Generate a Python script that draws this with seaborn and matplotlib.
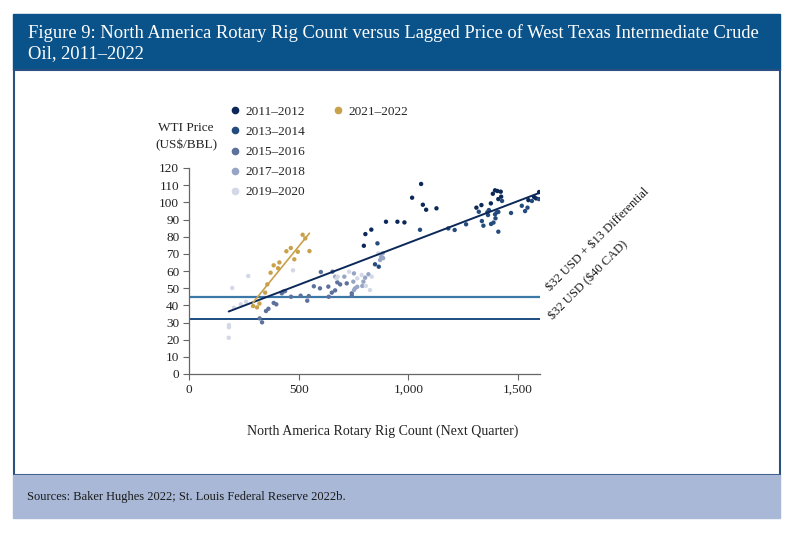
# =========================================================
# FIGURA 9 - RIG COUNT VS PRECIO WTI (REZAGADO)
# =========================================================

import pandas as pd
import numpy as np

import matplotlib.pyplot as plt
import seaborn as sns
from matplotlib.patches import Rectangle
from matplotlib.lines import Line2D


# =========================================================
# 1. DATOS
# =========================================================

periodos = ['2011–2012', '2013–2014', '2015–2016', '2017–2018', '2019–2020', '2021–2022']

rig_2011 = [797, 804, 831, 898, 950, 982, 1017, 1058, 1066, 1081, 1128, 1310,
            1333, 1385, 1395, 1406, 1421, 1423, 1410, 1376, 1547, 1573, 1596, 1582]
wti_2011 = [74.7, 81.5, 84.1, 88.7, 88.7, 88.3, 102.7, 110.7, 98.6, 95.7, 96.5, 96.9,
            98.4, 105.0, 107.0, 106.6, 106.2, 103.3, 101.9, 99.4, 101.3, 103.1, 106.0, 102.3]

rig_2013 = [1182, 1211, 1263, 1321, 1335, 1342, 1360, 1367, 1363, 1377, 1388, 1427,
            1395, 1403, 1410, 1397, 1410, 1468, 1517, 1532, 1543, 1563, 1595, 859,
            848, 865, 1053]
wti_2013 = [84.8, 83.9, 87.2, 94.5, 89.1, 86.4, 94.2, 95.5, 92.6, 87.4, 88.2, 100.8,
            93.0, 94.2, 94.4, 90.7, 82.9, 93.8, 98.0, 94.9, 96.9, 100.8, 101.9, 76.1,
            63.9, 62.5, 84.0]

rig_2015 = [322, 333, 351, 362, 386, 398, 423, 430, 438, 465, 509, 539, 546,
            569, 597, 601, 635, 637, 651, 654, 666, 676, 689, 719, 742, 742]
wti_2015 = [32.4, 30.1, 36.7, 38.0, 41.4, 40.6, 47.0, 48.0, 48.3, 45.0, 45.6, 42.7, 45.4,
            51.1, 49.9, 59.4, 50.9, 45.0, 47.4, 59.6, 48.7, 53.4, 52.2, 52.8, 47.0, 45.6]

rig_2017 = [749, 752, 757, 767, 790, 795, 803, 818, 752, 871, 876, 883, 885, 666, 708]
wti_2017 = [53.8, 48.9, 49.9, 50.8, 51.3, 53.8, 56.1, 58.1, 58.6, 66.4, 68.3, 70.3, 67.5,
            56.7, 56.7]

rig_2019 = [181, 182, 182, 197, 205, 236, 260, 270, 474, 673, 678, 730, 767, 787,
            806, 825, 833, 863]
wti_2019 = [21.1, 28.5, 27.2, 50.1, 38.6, 40.6, 42.1, 57.1, 60.4, 55.7, 56.7, 59.6,
            55.7, 57.7, 51.3, 48.9, 56.7, 70.3]

rig_2021 = [292, 310, 321, 347, 357, 372, 386, 406, 412, 444, 464, 480, 496, 518,
            530, 549]
wti_2021 = [39.6, 38.8, 41.0, 47.4, 52.2, 59.0, 63.3, 61.6, 65.0, 71.5, 73.4, 66.8,
            71.2, 81.1, 79.0, 71.6]

# Lineas de referencia (US$/BBL)
precio_base = 32
precio_diferencial = 45

colores = ['#0b2858', '#234b7e', '#5c719b', '#96a5c5', '#d3d8e6', '#c9a14b']


# =========================================================
# 2. ARMAR DATAFRAME
# =========================================================

xs = [rig_2011, rig_2013, rig_2015, rig_2017, rig_2019, rig_2021]
ys = [wti_2011, wti_2013, wti_2015, wti_2017, wti_2019, wti_2021]

df = pd.concat([
    pd.DataFrame({'rig': x, 'wti': y, 'periodo': p})
    for x, y, p in zip(xs, ys, periodos)
], ignore_index=True)

df_recent = df[df['periodo'] == '2021–2022']


# =========================================================
# 3. ESTILO
# =========================================================

sns.set_theme(style='ticks')
plt.rcParams['font.family'] = ['Liberation Serif', 'DejaVu Serif']

fig = plt.figure(figsize=(8, 5.4), dpi=100)

# Fondo: cabecera azul, caja blanca, franja de fuentes
fig.patches.append(Rectangle((13 / 800, 1 - 70 / 540), 767 / 800, 56 / 540,
                             transform=fig.transFigure, color='#0a538a', zorder=-10))
fig.patches.append(Rectangle((13.5 / 800, 1 - 475 / 540), 766 / 800, 405 / 540,
                             transform=fig.transFigure, facecolor='white',
                             edgecolor='#2a4f80', linewidth=1.5, zorder=-10))
fig.patches.append(Rectangle((13 / 800, 1 - 518 / 540), 767 / 800, 43 / 540,
                             transform=fig.transFigure, color='#a8b8d6', zorder=-10))

fig.text(28 / 800, 1 - 43 / 540,
         'Figure 9: North America Rotary Rig Count versus Lagged Price of West Texas Intermediate Crude\nOil, 2011–2022',
         color='white', fontsize=13.3, va='center', ha='left', linespacing=1.2)

fig.text(27 / 800, 1 - 497 / 540,
         'Sources: Baker Hughes 2022; St. Louis Federal Reserve 2022b.',
         color='#1a1a1a', fontsize=9, va='center', ha='left')


# =========================================================
# 4. GRAFICO
# =========================================================

ax = fig.add_axes([189 / 800, 1 - 374 / 540, 351 / 800, 206 / 540])
ax.set_zorder(2)

sns.scatterplot(data=df, x='rig', y='wti', hue='periodo', hue_order=periodos,
                palette=colores, s=10, linewidth=0, ax=ax, legend=False, zorder=3)

# Tendencias: una con todos los datos, otra solo 2021-2022
sns.regplot(data=df, x='rig', y='wti', scatter=False, ci=None, ax=ax,
            line_kws={'color': '#0b2858', 'linewidth': 1.4, 'zorder': 4})
sns.regplot(data=df_recent, x='rig', y='wti', scatter=False, ci=None, ax=ax,
            line_kws={'color': '#c9a14b', 'linewidth': 1.2, 'zorder': 4})

# Lineas horizontales
ax.axhline(precio_diferencial, color='#3b78a6', linewidth=1.6, zorder=2)
ax.axhline(precio_base, color='#1c4c80', linewidth=1.4, zorder=2)

ax.text(1635, 49.5, r'\$32 USD + \$13 Differential', rotation=45,
        rotation_mode='anchor', ha='left', va='center', fontsize=9,
        color='#1a1a1a', clip_on=False)
ax.text(1648, 32.5, r'\$32 USD (\$40 CAD)', rotation=45,
        rotation_mode='anchor', ha='left', va='center', fontsize=9,
        color='#1a1a1a', clip_on=False)

ax.set_xlim(0, 1600)
ax.set_ylim(0, 120)
ax.set_xticks([0, 500, 1000, 1500])
ax.set_xticklabels(['0', '500', '1,000', '1,500'])
ax.set_yticks(range(0, 121, 10))

ax.set_xlabel('')
ax.set_ylabel('')
sns.despine(ax=ax)
for lado in ['left', 'bottom']:
    ax.spines[lado].set_color('#666666')
    ax.spines[lado].set_linewidth(0.9)
ax.tick_params(direction='out', length=4, width=0.8, color='#666666',
               labelsize=9.5, labelcolor='#222222', pad=3)
ax.set_facecolor('none')

fig.text(383 / 800, 1 - 431 / 540, 'North America Rotary Rig Count (Next Quarter)',
         fontsize=10, ha='center', va='center', color='#222222')
fig.text(186 / 800, 1 - 128 / 540, 'WTI Price', fontsize=9.5,
         ha='center', va='center', color='#222222')
fig.text(186 / 800, 1 - 145 / 540, r'(US\$/BBL)', fontsize=9.5,
         ha='center', va='center', color='#222222')


# =========================================================
# 5. LEYENDA (dos bloques)
# =========================================================

manijas = [Line2D([], [], marker='o', linestyle='', color=c, markersize=4.5)
           for c in colores]

fig.legend(manijas[:5], periodos[:5], loc='upper left',
           bbox_to_anchor=(223 / 800, 1 - 99 / 540), frameon=False,
           fontsize=9.5, handlelength=0.8, handletextpad=0.4,
           borderpad=0, labelspacing=0.6)
fig.legend(manijas[5:], periodos[5:], loc='upper left',
           bbox_to_anchor=(326 / 800, 1 - 99 / 540), frameon=False,
           fontsize=9.5, handlelength=0.8, handletextpad=0.4,
           borderpad=0, labelspacing=0.6)

plt.savefig('out.png', dpi=100)
